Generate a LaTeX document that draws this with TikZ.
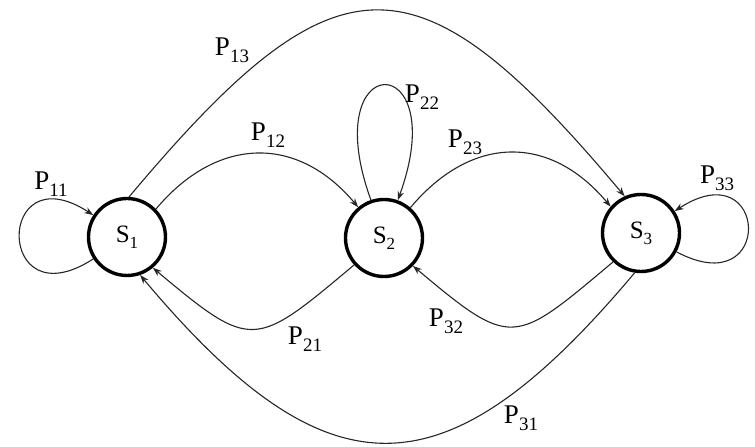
\documentclass[tikz,border=0pt]{standalone}
\usepackage{fontspec}
\setmainfont{Liberation Serif}
\usetikzlibrary{arrows.meta}
\newcommand\Plab[1]{P\raisebox{-7pt}{\fontsize{19}{19}\selectfont #1}}
\newcommand\Slab[1]{S\raisebox{-6pt}{\fontsize{17}{17}\selectfont #1}}
\begin{document}
\begin{tikzpicture}[x=1pt,y=1pt,
  state/.style={circle,draw=black,line width=3.4pt,minimum size=77pt,inner sep=0pt,font=\rmfamily\fontsize{25}{25}\selectfont},
  trans/.style={draw=black!85,line width=1.1pt,-{Stealth[length=9pt,width=6.5pt]}},
  plab/.style={inner sep=0pt,font=\rmfamily\fontsize{27}{27}\selectfont}]
\useasboundingbox (0,0) rectangle (755,447);
\node[state] (s1) at (127,210) {\Slab{1}};
\node[state] (s2) at (384,209) {\Slab{2}};
\node[state] (s3) at (641,214) {\Slab{3}};
\draw[trans] (s1.213) .. controls +(213:117) and +(147:117) .. (s1.147);
\draw[trans] (s3.-28) .. controls +(-28:112) and +(33:112) .. (s3.33);
\draw[trans] (s2.109) .. controls +(110:163) and +(70:163) .. (s2.70);
\draw[trans] (s1.44) .. controls +(50:95) and +(130:95) .. (s2.130);
\draw[trans] (s2.49) .. controls +(50:95) and +(130:95) .. (s3.139);
\draw[trans] (s1.87) .. controls +(50:324) and +(130:324) .. (s3.114);
\draw[trans] (s2.222) .. controls +(220:130) and +(-40:130) .. (s1.-50);
\draw[trans] (s3.226) .. controls +(220:130) and +(-40:130) .. (s2.-44);
\draw[trans] (s3.261) .. controls +(230:294) and +(-50:294) .. (s1.-71);
\node[plab] (l11) at (51,263) {\Plab{11}};
\node[plab] (l12) at (268,312) {\Plab{12}};
\node[plab] (l13) at (232,397) {\Plab{13}};
\node[plab] (l22) at (422,350) {\Plab{22}};
\node[plab] (l23) at (465,305) {\Plab{23}};
\node[plab] (l33) at (717,269) {\Plab{33}};
\node[plab] (l21) at (305,108) {\Plab{21}};
\node[plab] (l32) at (446,126) {\Plab{32}};
\node[plab] (l31) at (521,29) {\Plab{31}};
\end{tikzpicture}
\end{document}
